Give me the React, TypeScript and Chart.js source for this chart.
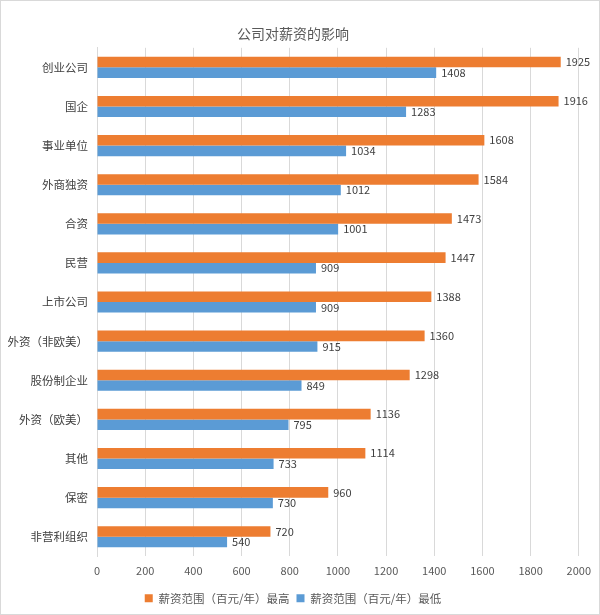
import React, { useEffect, useRef } from "react";
import { Chart, registerables } from "chart.js";

Chart.register(...registerables);

const categories = [
  "创业公司",
  "国企",
  "事业单位",
  "外商独资",
  "合资",
  "民营",
  "上市公司",
  "外资（非欧美）",
  "股份制企业",
  "外资（欧美）",
  "其他",
  "保密",
  "非营利组织",
];
const maxValues = [1925, 1916, 1608, 1584, 1473, 1447, 1388, 1360, 1298, 1136, 1114, 960, 720];
const minValues = [1408, 1283, 1034, 1012, 1001, 909, 909, 915, 849, 795, 733, 730, 540];
const seriesNames = ["薪资范围（百元/年）最高", "薪资范围（百元/年）最低"];
const titleText = "公司对薪资的影响";

const FONT = "'Noto Sans CJK SC', 'Noto Sans', sans-serif";

const valueLabels = {
  id: "valueLabels",
  afterDatasetsDraw(chart: any) {
    const ctx = chart.ctx;
    ctx.save();
    ctx.font = `11px ${FONT}`;
    ctx.fillStyle = "#404040";
    ctx.textAlign = "left";
    ctx.textBaseline = "middle";
    chart.data.datasets.forEach((ds: any, i: number) => {
      const meta = chart.getDatasetMeta(i);
      meta.data.forEach((bar: any, j: number) => {
        ctx.fillText(String(ds.data[j]), bar.x + 5, bar.y);
      });
    });
    ctx.restore();
  },
};

export default function App() {
  const ref = useRef<HTMLCanvasElement>(null);
  useEffect(() => {
    document.body.style.margin = "0";
    const chart = new Chart(ref.current!, {
      type: "bar",
      data: {
        labels: categories,
        datasets: [
          {
            label: seriesNames[0],
            data: maxValues,
            backgroundColor: "#ED7D31",
            barPercentage: 1,
            categoryPercentage: 0.54,
          },
          {
            label: seriesNames[1],
            data: minValues,
            backgroundColor: "#5B9BD5",
            barPercentage: 1,
            categoryPercentage: 0.54,
          },
        ],
      },
      options: {
        indexAxis: "y",
        animation: false,
        responsive: false,
        maintainAspectRatio: false,
        layout: { padding: { left: 5, right: 19, top: 0, bottom: 0 } },
        plugins: {
          title: {
            display: true,
            text: titleText,
            color: "#595959",
            font: { family: FONT, size: 14, weight: "normal" },
            padding: { top: 24, bottom: 6 },
          },
          legend: {
            position: "bottom",
            labels: {
              color: "#595959",
              font: { family: FONT, size: 11.5 },
              boxWidth: 8,
              boxHeight: 8,
              padding: 7,
            },
          },
          tooltip: { enabled: false },
        },
        scales: {
          x: {
            min: 0,
            max: 2000,
            ticks: {
              stepSize: 200,
              color: "#595959",
              font: { family: FONT, size: 11 },
              padding: 8,
              callback: (v: any) => String(v),
            },
            grid: { color: "#d9d9d9", drawTicks: false },
            border: { display: false },
          },
          y: {
            ticks: {
              color: "#404040",
              font: { family: FONT, size: 11.5 },
              padding: 9,
            },
            grid: { display: false, drawTicks: false },
            border: { display: true, color: "#d9d9d9" },
            afterFit(scale: any) {
              scale.width = 91;
            },
          },
        },
      },
      plugins: [valueLabels],
    });
    return () => chart.destroy();
  }, []);
  return (
    <div
      style={{
        position: "absolute",
        left: 0,
        top: 0,
        width: 600,
        height: 615,
        boxSizing: "border-box",
        border: "1px solid #d9d9d9",
        background: "#fff",
      }}
    >
      <canvas ref={ref} width={598} height={613} style={{ display: "block" }} />
    </div>
  );
}
